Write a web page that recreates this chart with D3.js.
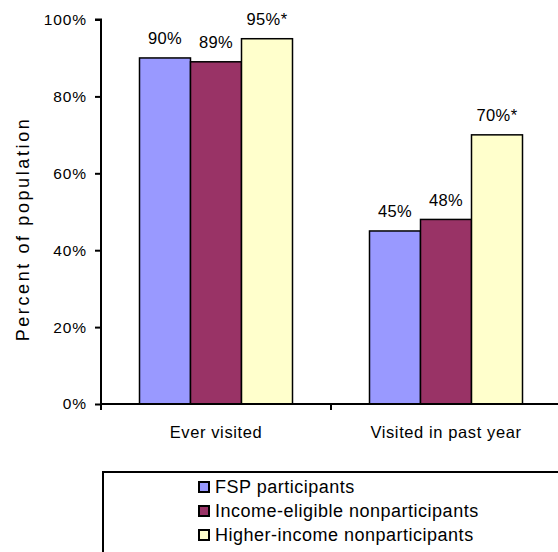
<!DOCTYPE html>
<html>
<head>
<meta charset="utf-8">
<script src="https://cdn.jsdelivr.net/npm/d3@7"></script>
<style>
  html, body { margin: 0; padding: 0; background: #fff; }
  svg { display: block; }
  text { font-family: "Liberation Sans", Arial, Helvetica, sans-serif; fill: #000; }
</style>
</head>
<body>
<svg id="chart" width="558" height="552"></svg>
<script>
// Share of the population that has visited, by group
const categories = ["Ever visited", "Visited in past year"];
const seriesNames = ["FSP participants", "Income-eligible nonparticipants", "Higher-income nonparticipants"];
const fspValues = [90, 45];
const eligibleValues = [89, 48];
const higherValues = [95, 70];
const significant = [false, false, true]; // marked with an asterisk
const yTicks = [0, 20, 40, 60, 80, 100];
const colors = ["#9999FF", "#993366", "#FFFFCC"];

const seriesValues = [fspValues, eligibleValues, higherValues];
const rows = categories.map((c, i) => ({
  category: c,
  values: seriesNames.map((s, j) => ({ series: s, value: seriesValues[j][i], star: significant[j] }))
}));

const svg = d3.select("#chart");
const plot = { left: 101, right: 561, top: 19.5, bottom: 404 };

const x0 = d3.scaleBand().domain(categories).range([plot.left, plot.right]).padding(0);
const groupWidth = 153;
const x1 = d3.scaleBand().domain(seriesNames).range([0, groupWidth]).padding(0);
const y = d3.scaleLinear().domain([0, 100]).range([plot.bottom, plot.top]);
const color = d3.scaleOrdinal().domain(seriesNames).range(colors);

// Bars
const groups = svg.append("g").selectAll("g").data(rows).join("g")
  .attr("transform", d => `translate(${x0(d.category) + (x0.bandwidth() - groupWidth) / 2},0)`);

groups.selectAll("rect").data(d => d.values).join("rect")
  .attr("x", d => x1(d.series))
  .attr("y", d => y(d.value))
  .attr("width", x1.bandwidth())
  .attr("height", d => y(0) - y(d.value))
  .attr("fill", d => color(d.series))
  .attr("stroke", "#000")
  .attr("stroke-width", 1.5);

// Value labels
groups.selectAll("text").data(d => d.values).join("text")
  .attr("x", d => x1(d.series) + x1.bandwidth() / 2)
  .attr("y", d => y(d.value) - 13.5)
  .attr("text-anchor", "middle")
  .style("font-size", "16.5px")
  .style("letter-spacing", "0.4px")
  .text(d => d.value + "%" + (d.star ? "*" : ""));

// Y axis
const yAxis = svg.append("g")
  .attr("transform", `translate(${plot.left},0)`)
  .call(d3.axisLeft(y).tickValues(yTicks).tickFormat(d => d + "%").tickSize(6).tickPadding(8));
yAxis.select(".domain").attr("stroke", "#000").attr("stroke-width", 2)
  .attr("d", `M-6,${y(100)}H0V${plot.bottom + 6}`);
yAxis.selectAll(".tick line").attr("stroke", "#000").attr("stroke-width", 2);
yAxis.selectAll(".tick text")
  .style("font-size", "15.5px").style("letter-spacing", "0.9px");

// X axis
const xAxisG = svg.append("g").attr("transform", `translate(0,${plot.bottom})`);
xAxisG.append("line")
  .attr("x1", plot.left).attr("x2", plot.right)
  .attr("stroke", "#000").attr("stroke-width", 2);
xAxisG.selectAll("line.sep").data(categories.slice(1)).join("line")
  .attr("class", "sep")
  .attr("x1", d => x0(d)).attr("x2", d => x0(d))
  .attr("y1", 0).attr("y2", 6)
  .attr("stroke", "#000").attr("stroke-width", 2);
xAxisG.selectAll("text").data(categories).join("text")
  .attr("x", d => x0(d) + x0.bandwidth() / 2)
  .attr("y", 34)
  .attr("text-anchor", "middle")
  .style("font-size", "16.5px")
  .style("letter-spacing", "0.6px")
  .text(d => d);

// Y axis title
svg.append("text")
  .attr("transform", `translate(29,229) rotate(-90)`)
  .attr("text-anchor", "middle")
  .style("font-size", "18px")
  .style("letter-spacing", "2.6px")
  .text("Percent of population");

// Legend
const legend = svg.append("g");
legend.append("rect")
  .attr("x", 103).attr("y", 472)
  .attr("width", 480).attr("height", 120)
  .attr("fill", "none").attr("stroke", "#000").attr("stroke-width", 2);
const items = legend.selectAll("g.item").data(seriesNames).join("g")
  .attr("class", "item")
  .attr("transform", (d, i) => `translate(199,${482 + i * 24})`);
items.append("rect")
  .attr("width", 10).attr("height", 10)
  .attr("fill", d => color(d))
  .attr("stroke", "#000").attr("stroke-width", 2);
items.append("text")
  .attr("x", 16).attr("y", 11)
  .style("font-size", "18px")
  .style("letter-spacing", "0.5px")
  .text(d => d);
</script>
</body>
</html>
